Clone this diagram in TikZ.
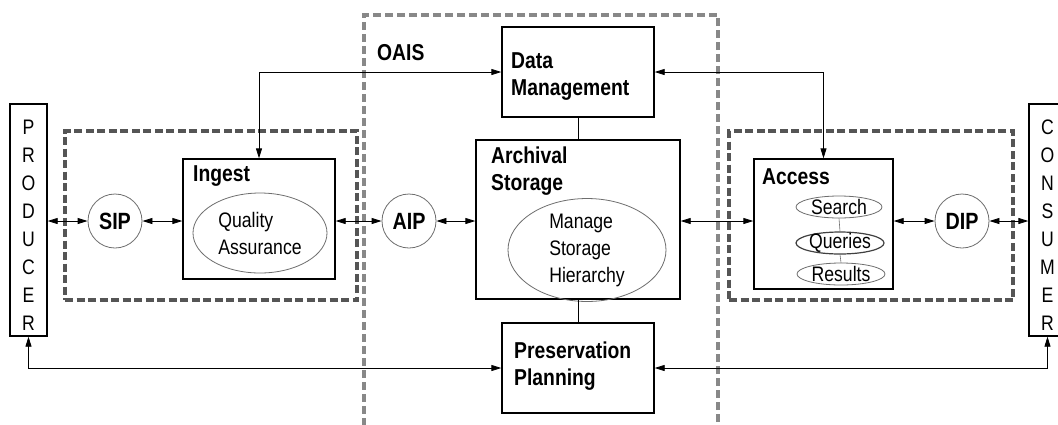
\documentclass[tikz,border=0pt]{standalone}
\usepackage{fontspec}
\setmainfont{Liberation Sans}
\newfontfamily\cond[FakeStretch=0.84]{Liberation Sans}
\usetikzlibrary{arrows.meta,shapes.geometric}
\definecolor{dgray}{HTML}{555555}
\definecolor{lgray}{HTML}{888888}
\definecolor{egray}{HTML}{6E6E6E}
\begin{document}
\begin{tikzpicture}[x=1pt,y=-1pt,
  box/.style={draw=black,line width=1.3pt,fill=white,inner sep=0pt},
  ttl/.style={font=\cond\bfseries\fontsize{23}{27}\selectfont,inner sep=0pt,align=left},
  txt/.style={font=\cond\fontsize{21}{27}\selectfont,inner sep=0pt,align=left},
  ell/.style={draw=egray,line width=0.8pt,ellipse,inner sep=0pt},
  circ/.style={draw=egray,line width=0.8pt,circle,fill=white,inner sep=0pt,minimum size=54,font=\cond\bfseries\fontsize{23.5}{27}\selectfont},
  dbox/.style={draw=dgray,line width=3.3pt,dash pattern=on 8pt off 3.5pt,inner sep=0pt},
  obox/.style={draw=lgray,line width=3.3pt,dash pattern=on 8pt off 4pt,inner sep=0pt},
  tip/.tip={Triangle[length=10pt,width=6pt]},
  dbl/.style={tip-tip,line width=0.8pt},
  link/.style={line width=0.8pt},
  vlet/.style={font=\cond\fontsize{21}{28}\selectfont,inner sep=0pt,align=center}
]
\useasboundingbox (0,0) rectangle (1058,424);
\fill[white] (0,0) rectangle (1058,424);

% dashed groups
\node[obox,minimum width=354,minimum height=425] (oais) at (541,227.5) {};
\node[dbox,minimum width=292,minimum height=169] (ingestgrp) at (211,215.5) {};
\node[dbox,minimum width=284,minimum height=169] (accessgrp) at (871,215.5) {};
\node[ttl,anchor=west] (oaisT) at (377,53) {OAIS};

% producer / consumer
\node[box,minimum width=37,minimum height=232] (producer) at (28.5,220) {};
\node[vlet] (prodT) at (28.5,225) {P\\R\\O\\D\\U\\C\\E\\R};
\node[box,minimum width=37,minimum height=232] (consumer) at (1047.5,220) {};
\node[vlet] (consT) at (1047.5,225) {C\\O\\N\\S\\U\\M\\E\\R};

% ingest
\node[box,minimum width=152,minimum height=120] (ingest) at (259,219) {};
\node[ttl,anchor=west] (ingestT) at (193,176) {Ingest};
\node[ell,minimum width=134,minimum height=80,txt] (qa) at (260,233) {Quality\\Assurance};

% data management
\node[box,minimum width=152,minimum height=90] (dm) at (578,72) {};
\node[ttl,anchor=west] (dmT) at (511,77) {Data\\Management};

% archival storage
\node[box,minimum width=204,minimum height=159] (as) at (578,219.5) {};
\node[ttl,anchor=west] (asT) at (491,171) {Archival\\Storage};
\node[ell,minimum width=158,minimum height=94,txt] (msh) at (587,250) {Manage\\Storage\\Hierarchy};

% preservation planning
\node[box,minimum width=152,minimum height=90] (pp) at (578,368) {};
\node[ttl,anchor=west] (ppT) at (514,366) {Preservation\\Planning};

% access
\node[box,minimum width=139,minimum height=130] (access) at (823.5,224) {};
\node[ttl,anchor=west] (accessT) at (762,177) {Access};
\node[ell,minimum width=86,minimum height=22] (search) at (839,207) {};
\node[txt] at (search) {Search};
\node[ell,draw=black!75,line width=1.2pt,minimum width=88,minimum height=22] (queries) at (840,243) {};
\node[txt] at (queries) {Queries};
\node[ell,minimum width=88,minimum height=22] (results) at (841,274) {};
\node[txt] at (results) {Results};
\draw[egray,line width=0.6pt] (search.south) -- (queries.north);
\draw[egray,line width=0.6pt] (queries.south) -- (results.north);

% packages
\node[circ] (sip) at (115,221) {SIP};
\node[circ] (aip) at (409,221) {AIP};
\node[circ] (dip) at (962,221) {DIP};

% connectors
\draw[dbl] (producer.east |- sip.west) -- (sip.west);
\draw[dbl] (sip.east) -- (sip.east -| ingest.west);
\draw[dbl] (ingest.east |- aip.west) -- (aip.west);
\draw[dbl] (aip.east) -- (aip.east -| as.west);
\draw[dbl] (as.east |- aip.east) -- (access.west |- aip.east);
\draw[dbl] (access.east |- dip.west) -- (dip.west);
\draw[dbl] (dip.east) -- (dip.east -| consumer.west);
\draw[dbl] (dm.west) -| (ingest.north);
\draw[dbl] (dm.east) -| (access.north);
\draw[dbl] (producer.south) |- (pp.west);
\draw[dbl] (pp.east) -| (consumer.south);
\draw[link] (dm.south) -- (as.north);
\draw[link] (as.south) -- (pp.north);
\end{tikzpicture}
\end{document}
